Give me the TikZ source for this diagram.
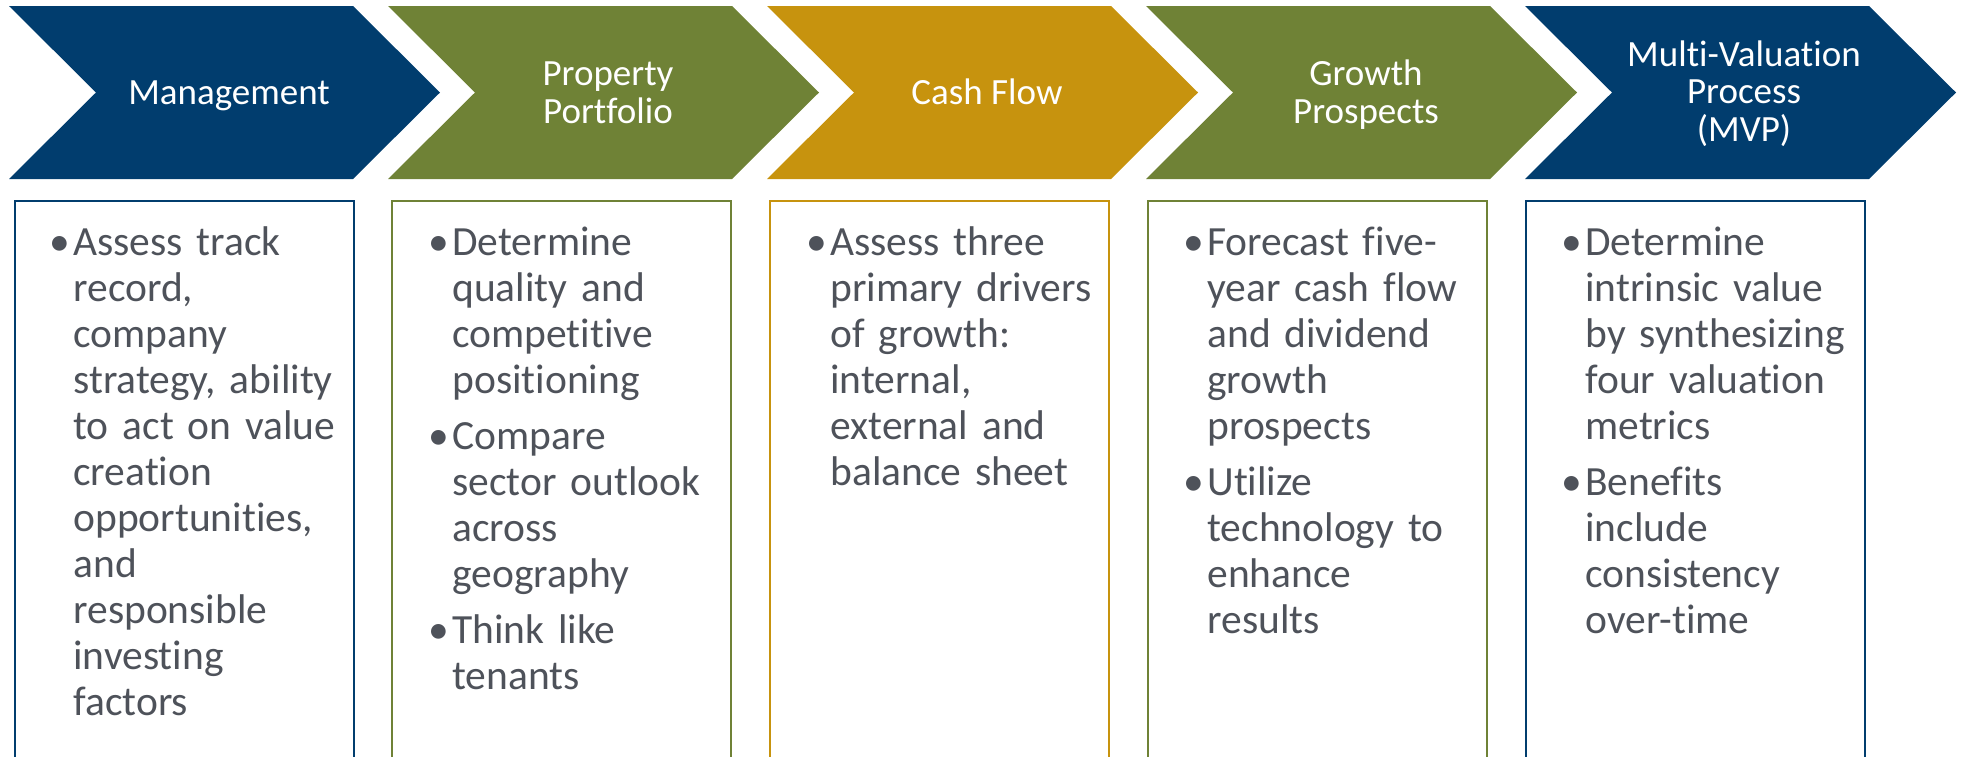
\documentclass[tikz,border=0pt]{standalone}
\usepackage{fontspec}
\setmainfont{Carlito}[Ligatures=NoCommon]
\definecolor{cblue}{RGB}{1,61,110}
\definecolor{cgreen}{RGB}{111,130,54}
\definecolor{cgold}{RGB}{199,147,14}
\definecolor{bodygray}{RGB}{78,82,90}
\newcommand\bul{\leavevmode\llap{\textbullet\hspace{1.5pt}}}
\tikzset{
  chev/.style={draw=none},
  head/.style={text=white, align=center, anchor=base, inner sep=0pt,
    font=\fontsize{18.5pt}{18.75pt}\selectfont},
  body/.style={text=bodygray, align=left, text width=150pt, anchor=base west,
    inner sep=0pt, font=\fontsize{20.75pt}{23pt}\selectfont},
  panel/.style={line width=1pt}
}
\begin{document}
\begin{tikzpicture}[x=0.5pt,y=-0.5pt]
\useasboundingbox (0,0) rectangle (1961,756);
% chevrons
\foreach \L/\c in {9/cblue,388/cgreen,767/cgold,1146/cgreen,1525/cblue}{
  \fill[\c] (\L,6) -- ++(344,0) -- ++(87,86.5) -- ++(-87,86.5) -- ++(-344,0) -- ++(87,-86.5) -- cycle;
}
% header texts (anchor = baseline of last line)
\node[head] (h1) at (229,104) {Management};
\node[head] (h2) at (608,123) {Property\\Portfolio};
\node[head] (h3) at (987,104) {Cash Flow};
\node[head] (h4) at (1366,123) {Growth\\Prospects};
\node[head] (h5) at (1744,141) {Multi-Valuation\\Process\\(MVP)};
% panels
\draw[panel,cblue]  (15,760)   |- (353.5,201)  -- (353.5,760);
\draw[panel,cgreen] (392,760)  |- (731,201)    -- (731,760);
\draw[panel,cgold]  (770,760)  |- (1109,201)   -- (1109,760);
\draw[panel,cgreen] (1148,760) |- (1487,201)   -- (1487,760);
\draw[panel,cblue]  (1526,760) |- (1864.5,201) -- (1864.5,760);
% body texts
\node[body] (b1) at (73,255) {\bul Assess track\\record,\\company\\strategy, ability\\to act on value\\creation\\opportunities,\\and\\responsible\\investing\\factors};
\node[body] (b2) at (452,255) {\bul Determine\\quality and\\competitive\\positioning\\[5pt]\bul Compare\\sector outlook\\across\\geography\\[5pt]\bul Think like\\tenants};
\node[body] (b3) at (830,255) {\bul Assess three\\primary drivers\\of growth:\\internal,\\external and\\balance sheet};
\node[body] (b4) at (1207,255) {\bul Forecast five-\\year cash flow\\and dividend\\growth\\prospects\\[5pt]\bul Utilize\\technology to\\enhance\\results};
\node[body] (b5) at (1585,255) {\bul Determine\\intrinsic value\\by synthesizing\\four valuation\\metrics\\[5pt]\bul Benefits\\include\\consistency\\over-time};
\end{tikzpicture}
\end{document}
